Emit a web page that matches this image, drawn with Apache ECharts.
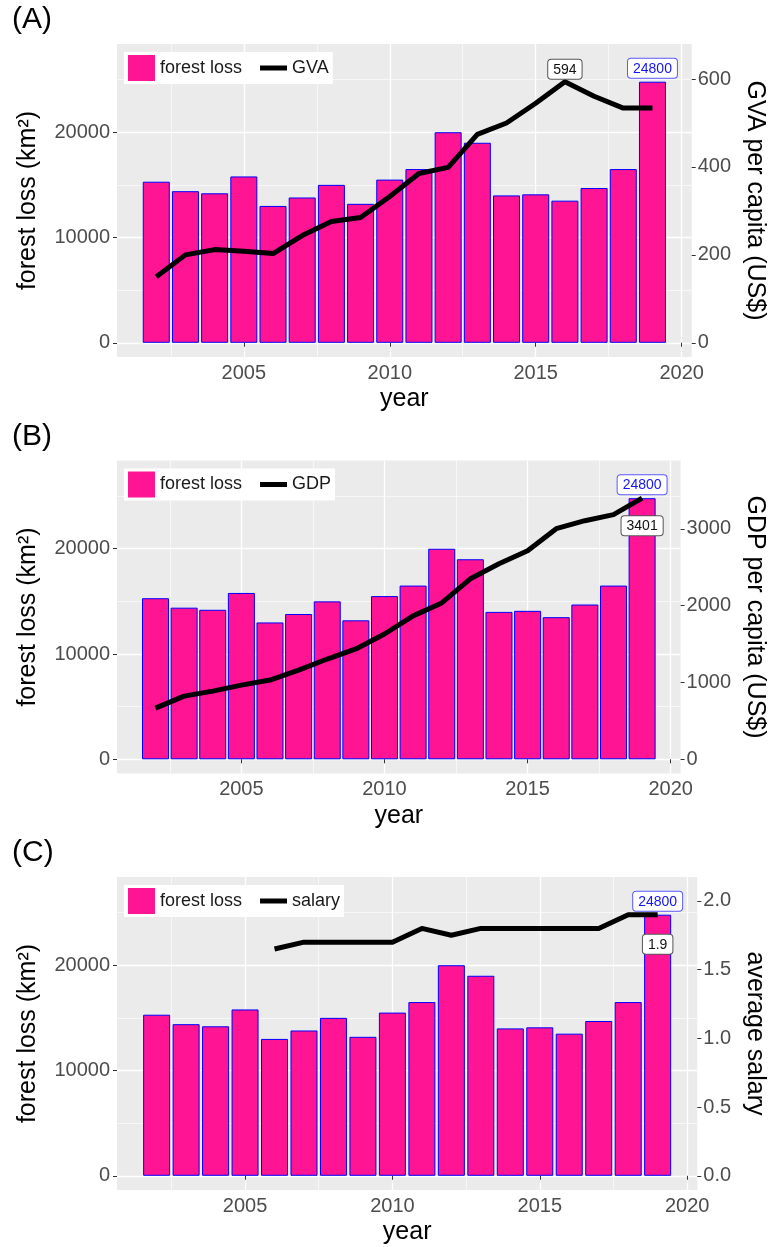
<!DOCTYPE html>
<html>
<head>
<meta charset="utf-8">
<script src="https://cdn.jsdelivr.net/npm/echarts@6/dist/echarts.min.js"></script>
<style>
  html, body { margin: 0; padding: 0; background: #ffffff; }
  #chart { width: 775px; height: 1247px; }
</style>
</head>
<body>
<div id="chart"></div>
<script>
// Annual forest loss (km²) and three economic indicators.
const years = [2002, 2003, 2004, 2005, 2006, 2007, 2008, 2009, 2010,
               2011, 2012, 2013, 2014, 2015, 2016, 2017, 2018, 2019];
const forestLoss = [15300, 14400, 14200, 15800, 13000, 13800, 15000, 13200, 15500,
                    16500, 20000, 19000, 14000, 14100, 13500, 14700, 16500, 24800];
const gvaPerCapita = [150, 200, 212, 208, 203, 244, 276, 285, 333,
                      385, 399, 474, 500, 545, 594, 561, 534, 534];
const gdpPerCapita = [666, 823, 888, 966, 1032, 1162, 1306, 1437, 1632,
                      1868, 2037, 2351, 2547, 2716, 3004, 3108, 3187, 3401];
const salaryYears = [2006, 2007, 2008, 2009, 2010, 2011, 2012,
                     2013, 2014, 2015, 2016, 2017, 2018, 2019];
const averageSalary = [1.65, 1.7, 1.7, 1.7, 1.7, 1.8, 1.75,
                       1.8, 1.8, 1.8, 1.8, 1.8, 1.9, 1.9];

const yearTicks = [2005, 2010, 2015, 2020];
const yearMinorTicks = [2002.5, 2007.5, 2012.5, 2017.5];
const lossTicks = [0, 10000, 20000];
const lossMinorTicks = [5000, 15000, 25000];
const gvaTicks = [0, 200, 400, 600];
const gdpTicks = [0, 1000, 2000, 3000];
const salaryTicks = [0, 0.5, 1.0, 1.5, 2.0];

const panelLetters = ['(A)', '(B)', '(C)'];
const lineNames = ['GVA', 'GDP', 'salary'];
const rightTitles = ['GVA per capita (US$)', 'GDP per capita (US$)', 'average salary'];

// ---- layout ----
const FONT = 'Liberation Sans, Arial, Helvetica, sans-serif';
const PANEL_BG = '#EBEBEB';
const gridLeft = 117, gridWidth = 591, gridHeight = 313;
const gridTops = [44, 460.5, 877];
const lossMin = -1350, lossMax = 28380;
// legend key for the line series: a thick horizontal stroke
const LINE_KEY = 'path://M0,0 L27,0 L27,5 L0,5 Z';

// x range: bar extent padded by 5% on both sides
const barFrac = 0.9;
const xLo = Math.min(...years) - barFrac / 2, xHi = Math.max(...years) + barFrac / 2;
const xMin = xLo - 0.05 * (xHi - xLo), xMax = xHi + 0.05 * (xHi - xLo);
const barPx = gridWidth / (xMax - xMin) * barFrac;

const panels = [
  { xs: years, ys: gvaPerCapita, ticks: gvaTicks, fmt: v => String(v), labelPos: 'top', labelDist: 3 },
  { xs: years, ys: gdpPerCapita, ticks: gdpTicks, fmt: v => String(v), labelPos: 'bottom', labelDist: 18 },
  { xs: salaryYears, ys: averageSalary, ticks: salaryTicks, fmt: v => v.toFixed(1), labelPos: 'bottom', labelDist: 20 }
];

const lossMaxIdx = forestLoss.lastIndexOf(Math.max(...forestLoss));

const grids = [], xAxes = [], yAxes = [], series = [], titles = [], legends = [];

panels.forEach((pn, p) => {
  const top = gridTops[p];
  const econMax = Math.max(...pn.ys);
  const k = Math.max(...forestLoss) / econMax;   // secondary-axis scale
  const econMaxIdx = pn.ys.lastIndexOf(econMax);

  grids.push({ left: gridLeft, top: top, width: gridWidth, height: gridHeight,
               show: true, backgroundColor: PANEL_BG, borderWidth: 0 });

  titles.push({ text: panelLetters[p], left: 7, top: top - 44,
                textStyle: { fontSize: 30, fontWeight: 'normal', color: '#000', fontFamily: FONT } });

  // x axes: labelled major axis + hidden axis for minor grid lines
  xAxes.push({
    gridIndex: p, type: 'value', position: 'bottom', min: xMin, max: xMax,
    axisLine: { show: false },
    axisTick: { show: true, length: 4, customValues: yearTicks, lineStyle: { color: '#333', width: 1 } },
    axisLabel: { customValues: yearTicks, formatter: v => String(v), color: '#4D4D4D', fontSize: 20, margin: 6, fontFamily: FONT },
    splitLine: { show: true, lineStyle: { color: '#fff', width: 1.3 } },
    name: 'year', nameLocation: 'middle', nameGap: 30,
    nameTextStyle: { fontSize: 25, color: '#000', fontFamily: FONT }
  });
  xAxes.push({
    gridIndex: p, type: 'value', position: 'top', min: xMin, max: xMax,
    axisLine: { show: false },
    axisTick: { show: false, customValues: yearMinorTicks },
    axisLabel: { show: false, customValues: yearMinorTicks },
    splitLine: { show: true, lineStyle: { color: '#fff', width: 0.6 } }
  });

  // y axes: forest loss (left), economic indicator (right), minor grid
  yAxes.push({
    gridIndex: p, type: 'value', position: 'left', min: lossMin, max: lossMax,
    axisLine: { show: false },
    axisTick: { show: true, length: 4, customValues: lossTicks, lineStyle: { color: '#333', width: 1 } },
    axisLabel: { customValues: lossTicks, formatter: v => String(v), color: '#4D4D4D', fontSize: 20, margin: 7, fontFamily: FONT },
    splitLine: { show: true, lineStyle: { color: '#fff', width: 1.3 } },
    name: 'forest loss (km²)', nameLocation: 'middle', nameGap: 76, nameRotate: 90,
    nameTextStyle: { fontSize: 25, color: '#000', fontFamily: FONT }
  });
  yAxes.push({
    gridIndex: p, type: 'value', position: 'right', min: lossMin / k, max: lossMax / k,
    axisLine: { show: false },
    axisTick: { show: true, length: 4, customValues: pn.ticks, lineStyle: { color: '#333', width: 1 } },
    axisLabel: { customValues: pn.ticks, formatter: pn.fmt, color: '#4D4D4D', fontSize: 20, margin: 6, fontFamily: FONT },
    splitLine: { show: false },
    name: rightTitles[p], nameLocation: 'middle', nameGap: 44, nameRotate: -90,
    nameTextStyle: { fontSize: 25, color: '#000', fontFamily: FONT }
  });
  yAxes.push({
    gridIndex: p, type: 'value', position: 'left', min: lossMin, max: lossMax,
    axisLine: { show: false },
    axisTick: { show: false, customValues: lossMinorTicks },
    axisLabel: { show: false, customValues: lossMinorTicks },
    splitLine: { show: true, lineStyle: { color: '#fff', width: 0.6 } }
  });

  series.push({
    name: 'forest loss', type: 'bar', xAxisIndex: 2 * p, yAxisIndex: 3 * p,
    barWidth: barPx, z: 3,
    itemStyle: { color: '#FF1493', borderColor: '#0000FF', borderWidth: 1 },
    data: years.map((yr, i) => {
      const d = { value: [yr, forestLoss[i]] };
      if (i === lossMaxIdx) {
        d.label = {
          show: true, position: 'top', distance: 4,
          formatter: q => String(q.value[1]),
          color: '#1515F0', fontSize: 14, fontFamily: FONT,
          backgroundColor: '#fff', borderColor: '#5A5AFF', borderWidth: 1, borderRadius: 3,
          padding: [3, 5, 2, 5]
        };
      }
      return d;
    })
  });

  series.push({
    name: lineNames[p], type: 'line', xAxisIndex: 2 * p, yAxisIndex: 3 * p + 1,
    symbol: 'none', z: 5,
    lineStyle: { color: '#000', width: 5, join: 'round', cap: 'butt' },
    itemStyle: { color: '#000' },
    data: pn.xs.map((yr, i) => {
      const d = { value: [yr, pn.ys[i]] };
      if (i === econMaxIdx) {
        d.symbol = 'circle';
        d.symbolSize = 0;
        d.label = {
          show: true, position: pn.labelPos, distance: pn.labelDist,
          formatter: q => pn.fmt(q.value[1]),
          color: '#111', fontSize: 14, fontFamily: FONT,
          backgroundColor: '#fff', borderColor: '#555', borderWidth: 1, borderRadius: 3,
          padding: [3, 5, 2, 5]
        };
      }
      return d;
    })
  });

  legends.push({
    left: 124, top: top + 8, orient: 'horizontal',
    padding: [3, 4, 3, 4], backgroundColor: '#fff',
    itemWidth: 27, itemHeight: 26, itemGap: 18,
    selectedMode: false,
    textStyle: { fontSize: 18, color: '#1A1A1A', fontFamily: FONT },
    itemStyle: { borderWidth: 0 },
    data: [
      { name: 'forest loss', icon: 'rect' },
      { name: lineNames[p], icon: LINE_KEY, itemStyle: { color: '#000', borderWidth: 0 } }
    ]
  });
});

const chart = echarts.init(document.getElementById('chart'), null, { renderer: 'canvas' });
chart.setOption({
  animation: false,
  backgroundColor: '#ffffff',
  textStyle: { fontFamily: FONT },
  title: titles,
  legend: legends,
  grid: grids,
  xAxis: xAxes,
  yAxis: yAxes,
  series: series
});
</script>
</body>
</html>
